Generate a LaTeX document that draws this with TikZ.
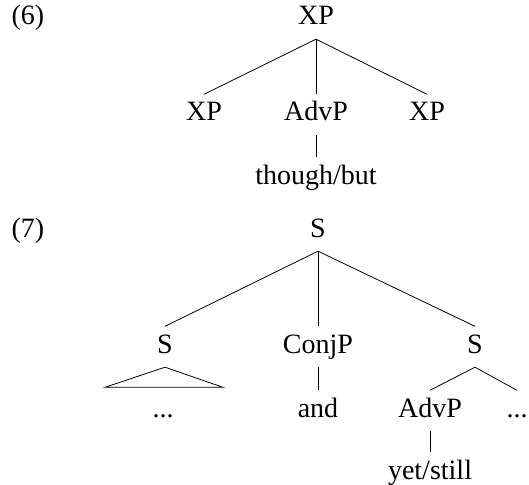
\documentclass[tikz,border=0pt]{standalone}
\usepackage{fontspec}
\setmainfont{Liberation Serif}
\usetikzlibrary{calc}
\begin{document}
\begin{tikzpicture}[x=1pt,y=-1pt,
  lab/.style={anchor=base,inner sep=0pt,font=\fontsize{28}{33}\selectfont},
  cat/.style={anchor=base,font=\fontsize{28}{33}\selectfont,
    text height=18.5pt,text depth=6pt,inner xsep=0pt,inner ysep=8pt},
  edge/.style={line width=0.8pt}]
\useasboundingbox (0,0) rectangle (529,484);

% example (6)
\node[lab] (ex6) at (28,25) {(6)};
\node[cat] (xp)  at (316,25)  {XP};
\node[cat] (xpa) at (204,121) {XP};
\node[cat] (adv) at (316,121) {AdvP};
\node[cat] (xpb) at (427,121) {XP};
\node[cat] (tb)  at (316,184) {though/but};
\draw[edge] (xp.south) -- (xpa.north);
\draw[edge] (xp.south) -- (adv.north);
\draw[edge] (xp.south) -- (xpb.north);
\draw[edge] (adv.south) -- (tb.north);

% example (7)
\node[lab] (ex7) at (28,237) {(7)};
\node[cat] (s)    at (318,237) {S};
\node[cat] (sa)   at (165,353) {S};
\node[cat] (conj) at (318,353) {ConjP};
\node[cat] (sb)   at (475,353) {S};
\node[cat] (da)   at (163,417) {...};
\node[cat] (and)  at (318,417) {and};
\node[cat] (adv2) at (430,417) {AdvP};
\node[cat] (db)   at (517,417) {...};
\node[cat] (ys)   at (430,479) {yet/still};
\draw[edge] (s.south) -- (sa.north);
\draw[edge] (s.south) -- (conj.north);
\draw[edge] (s.south) -- (sb.north);
% triangle over the elided material
\coordinate (tl) at ($(da.north)+(-58,-3)$);
\coordinate (tr) at ($(da.north)+(60,-3)$);
\draw[edge,line join=miter] (tl) -- (sa.south) -- (tr) -- cycle;
\draw[edge] (conj.south) -- (and.north);
\draw[edge] (sb.south) -- (adv2.north);
\draw[edge] (sb.south) -- (db.north);
\draw[edge] (adv2.south) -- (ys.north);
\end{tikzpicture}
\end{document}
